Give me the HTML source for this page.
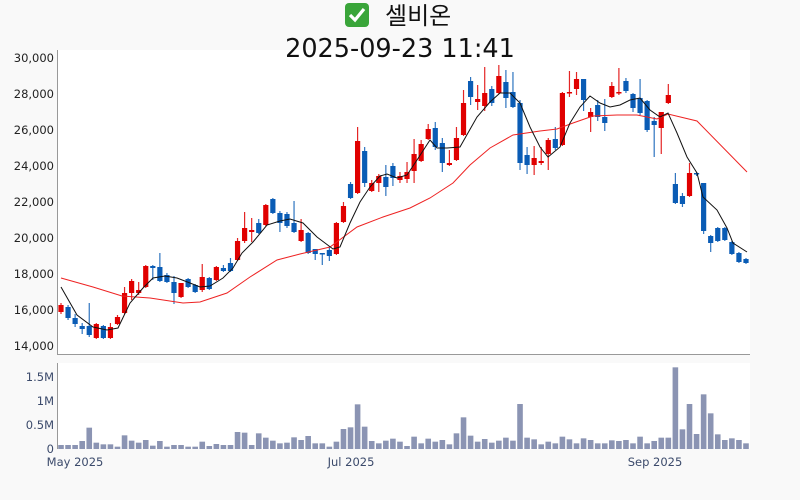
<!DOCTYPE html>
<html><head><meta charset="utf-8"><style>
body{margin:0;background:#f9f9f9;width:800px;height:500px;overflow:hidden;font-family:"DejaVu Sans","Noto Sans CJK KR",sans-serif}
</style></head><body>
<svg id="s" width="800" height="500" xmlns="http://www.w3.org/2000/svg" style="position:absolute;left:0;top:0" font-family="DejaVu Sans, Noto Sans CJK KR, sans-serif">
<rect x="57" y="50" width="693" height="305" fill="#fff"/>
<rect x="57" y="363" width="693" height="86" fill="#fff"/>
<line x1="57.5" y1="50" x2="57.5" y2="355" stroke="#999"/>
<line x1="57" y1="354.5" x2="750" y2="354.5" stroke="#999"/>
<line x1="57.5" y1="363" x2="57.5" y2="449" stroke="#999"/>
<rect x="345" y="3" width="24" height="24" rx="4" fill="#3aa53a"/>
<path d="M350 15 l5 5 l9 -11" stroke="#fff" stroke-width="3.2" fill="none"/>
<text x="385" y="24" font-size="24" fill="#111" font-family="Noto Sans CJK KR, sans-serif">셀비온</text>
<text x="400" y="57" font-size="25.5" fill="#111" text-anchor="middle">2025-09-23 11:41</text>
<g font-size="11.5" fill="#222" text-anchor="end">
<text x="54" y="62">30,000</text><text x="54" y="98">28,000</text><text x="54" y="134">26,000</text><text x="54" y="170">24,000</text><text x="54" y="206">22,000</text><text x="54" y="242">20,000</text><text x="54" y="278">18,000</text><text x="54" y="314">16,000</text><text x="54" y="350">14,000</text>
</g>
<g font-size="11.5" fill="#3b4a6b" text-anchor="end">
<text x="54" y="381">1.5M</text><text x="54" y="405">1M</text><text x="54" y="429">0.5M</text><text x="54" y="453">0</text>
</g>
<g font-size="11.5" fill="#3b4a6b" text-anchor="middle">
<text x="75" y="466">May 2025</text><text x="351" y="466">Jul 2025</text><text x="655" y="466">Sep 2025</text>
</g>
<g id="c"></g>
</svg>
<script>
var C=[
[305,312,303,314,'r'],[307,318,305,320,'b'],[318,324,314,327,'b'],[326,329,323,334,'b'],[326,335,303,337,'b'],[324,338,323,339,'r'],[326,338,325,339,'b'],[327,338,323,339,'r'],[317,324,315,325,'r'],[293,313,287,314,'r'],
[281,293,279,300,'r'],[290,293,282,295,'r'],[266,287,265,288,'r'],[266,268,265,280,'b'],[267,281,253,282,'b'],[275,282,273,283,'b'],[282,293,276,304,'b'],[283,297,283,298,'r'],[279,287,278,288,'b'],[285,292,284,293,'b'],
[277,290,264,292,'r'],[278,289,277,290,'b'],[267,280,266,281,'r'],[268,271,265,272,'b'],[263,271,258,272,'b'],[241,260,238,261,'r'],[228,241,212,243,'r'],[230,232,218,242,'r'],[223,233,219,234,'b'],[205,225,204,226,'r'],
[199,213,198,214,'b'],[213,223,211,232,'b'],[214,226,212,228,'b'],[223,232,201,233,'b'],[230,241,219,242,'r'],[233,253,232,254,'b'],[249,254,250,260,'b'],[253,254,253,265,'b'],[250,256,247,261,'b'],[223,254,222,255,'r'],
[206,222,202,223,'r'],[184,198,182,199,'b'],[141,193,127,194,'r'],[151,183,147,187,'b'],[183,191,180,192,'r'],[176,183,174,192,'r'],[177,187,165,196,'b'],[166,178,163,186,'b'],[176,180,172,183,'r'],[172,179,162,183,'r'],
[154,171,139,183,'r'],[144,161,140,162,'r'],[129,139,124,140,'r'],[128,147,122,150,'b'],[143,163,138,172,'b'],[163,165,150,166,'r'],[138,160,127,161,'r'],[103,135,90,136,'r'],[81,97,77,105,'b'],[99,102,85,110,'r'],
[93,106,67,111,'r'],[89,103,86,106,'b'],[76,93,65,94,'r'],[82,98,70,108,'b'],[92,107,72,108,'b'],[103,163,100,170,'b'],[155,165,147,174,'b'],[158,165,146,175,'r'],[161,163,147,165,'r'],[140,154,138,170,'r'],
[139,148,127,150,'b'],[93,145,92,146,'r'],[92,93,71,97,'r'],[79,89,72,95,'r'],[79,100,79,111,'b'],[112,117,108,132,'r'],[105,117,100,121,'b'],[117,123,99,131,'b'],[86,97,82,98,'r'],[92,93,68,95,'r'],
[81,91,78,93,'b'],[94,108,93,112,'b'],[98,113,79,115,'b'],[101,130,100,132,'b'],[121,125,117,157,'b'],[112,128,112,154,'r'],[95,103,84,104,'r'],[184,203,173,204,'b'],[196,204,193,207,'b'],[173,196,163,197,'r'],
[173,174,172,176,'b'],[183,231,183,234,'b'],[236,243,235,252,'b'],[228,241,227,242,'b'],[228,240,227,241,'b'],[242,254,241,255,'b'],[253,262,252,263,'b'],[259,263,258,264,'b']];
var V=[255,255,255,243,203,248,253,253,260,226,242,248,240,257,243,260,255,255,260,260,245,258,252,255,255,216,218,255,220,233,242,250,248,232,240,228,250,250,260,245,207,202,133,200,243,250,242,236,
245,258,230,250,236,245,240,253,220,172,227,245,237,248,242,233,242,132,233,238,253,245,250,230,238,250,235,240,250,250,241,243,240,250,230,250,243,233,233,22,208,132,222,103,160,223,240,235,240,250];
var h='';
var n=C.length,dx=(746-61)/(n-1);
for(var i=0;i<n;i++){var x=61+i*dx,c=C[i],col=c[4]=='r'?'#e00000':'#0a5cb5';
h+='<line x1="'+x+'" x2="'+x+'" y1="'+c[2]+'" y2="'+c[3]+'" stroke="'+col+'" stroke-width="1.2" opacity="0.85"/>';
var bh=Math.max(c[1]-c[0],1.5);
h+='<rect x="'+(x-2.6)+'" y="'+c[0]+'" width="5.2" height="'+bh+'" fill="'+col+'"/>';}
for(var i=0;i<V.length&&i<n;i++){var x=61+i*dx,t=360+V[i]/3;
h+='<rect x="'+(x-2.8)+'" y="'+t+'" width="5.6" height="'+(449-t)+'" fill="#8b94b3"/>';}
var K=[[61,287],[77,315],[93,327],[107,330],[118,328],[130,303],[143,288],[153,278],[165,276],[177,278],[190,283],[200,287],[210,286],[223,278],[233,268],[242,253],[253,242],[267,225],[280,221],[290,219],[303,223],[317,237],[333,249],[340,247],[350,223],[360,202],[370,187],[380,176],[387,174],[397,178],[407,175],[417,160],[430,140],[437,148],[447,148],[460,147],[477,117],[490,102],[500,93],[510,93],[520,103],[530,127],[540,147],[548,157],[560,147],[570,123],[580,107],[590,96],[600,103],[610,107],[620,105],[630,100],[640,98],[650,110],[660,117],[668,113],[677,133],[687,157],[697,173],[703,197],[717,210],[727,228],[733,243],[747,252]];
var R=[[61,278],[93,287],[122,296],[150,298],[183,303],[200,302],[227,293],[250,277],[277,260],[300,254],[330,247],[357,227],[383,217],[410,208],[430,198],[453,183],[470,165],[490,148],[513,135],[540,131],[557,129],[573,123],[593,116],[617,115],[637,115],[657,119],[668,114],[697,121],[747,172]];
function pl(a,c){return '<polyline fill="none" stroke="'+c+'" stroke-width="1" points="'+a.map(function(p){return p.join(',')}).join(' ')+'"/>';}
h+=pl(R,'#ee2222')+pl(K,'#111');
document.getElementById('c').innerHTML=h;
</script>
</body></html>
